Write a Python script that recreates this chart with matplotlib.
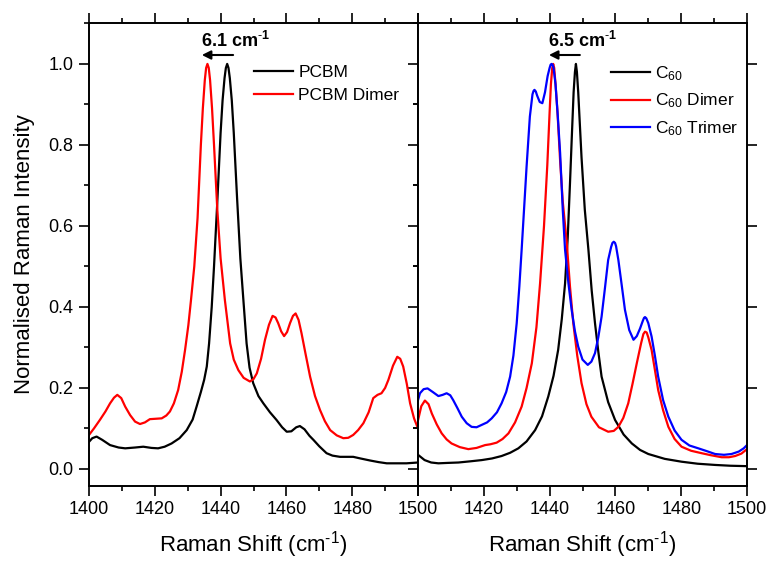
import matplotlib
matplotlib.use('Agg')
from matplotlib import pyplot as plt
from matplotlib.ticker import MultipleLocator, FixedLocator

plt.rcParams['font.family'] = ['Liberation Sans', 'DejaVu Sans']
plt.rcParams['mathtext.fontset'] = 'custom'
plt.rcParams['mathtext.rm'] = 'Liberation Sans'
plt.rcParams['mathtext.bf'] = 'Liberation Sans:bold'
plt.rcParams['mathtext.it'] = 'Liberation Sans:italic'

# left panel: PCBM and PCBM dimer
pcbm_x = [1400, 1401, 1402.3, 1404, 1406.4, 1409, 1411, 1414, 1416.5, 1419, 1421, 1423, 1425.1, 1427.5,
          1429.7, 1431.5, 1432.7, 1434, 1435, 1435.8, 1436.5, 1437.3, 1438, 1439, 1440, 1440.6, 1441.2,
          1441.6, 1442, 1442.4, 1442.8, 1443.4, 1444, 1445, 1446, 1446.9, 1447.9, 1448.8, 1449.9, 1451.5,
          1453, 1455, 1457, 1458.7, 1460.1, 1461.5, 1463, 1464.1, 1465.5, 1467, 1468.2, 1470, 1472.2,
          1474, 1476.3, 1478, 1480.3, 1482.5, 1485.4, 1488, 1490.5, 1493.5, 1496.5, 1500]
pcbm_y = [0.067, 0.076, 0.080, 0.072, 0.059, 0.053, 0.051, 0.053, 0.055, 0.052, 0.051, 0.055, 0.063, 0.076,
          0.096, 0.122, 0.154, 0.19, 0.22, 0.253, 0.31, 0.40, 0.50, 0.66, 0.83, 0.91, 0.965,
          0.99, 1.0, 0.99, 0.965, 0.91, 0.83, 0.67, 0.52, 0.42, 0.31, 0.25, 0.212, 0.18,
          0.162, 0.14, 0.121, 0.103, 0.092, 0.093, 0.103, 0.106, 0.098, 0.082, 0.072, 0.056, 0.039,
          0.033, 0.030, 0.030, 0.030, 0.026, 0.021, 0.017, 0.014, 0.014, 0.014, 0.016]

dimer_x = [1400, 1401.5, 1403.3, 1405, 1406.4, 1407.6, 1408.6, 1409.8, 1411, 1412.5, 1414, 1415.5, 1417,
           1418.5, 1420.3, 1422.1, 1423.5, 1424.6, 1425.8, 1427.1, 1428.2, 1429.2, 1430.2, 1431, 1432,
           1433, 1434, 1434.6, 1435.2, 1435.6, 1436, 1436.4, 1436.8, 1437.4, 1438, 1439, 1440, 1441.3,
           1442.9, 1444, 1445.4, 1447, 1448.9, 1450, 1451, 1452.3, 1453.5, 1454.7, 1455.8, 1456.7,
           1457.5, 1458.4, 1459.3, 1460.2, 1461.1, 1462, 1462.8, 1463.7, 1464.6, 1465.8, 1467.2, 1468.7,
           1470.2, 1471.7, 1473.3, 1475.3, 1477.3, 1478.8, 1480.3, 1481.8, 1483.4, 1485, 1486.4, 1487.7,
           1488.9, 1490, 1491, 1492.4, 1493.7, 1494.6, 1495.5, 1496.6, 1497.6, 1498.8, 1500]
dimer_y = [0.084, 0.10, 0.121, 0.142, 0.162, 0.176, 0.183, 0.175, 0.154, 0.133, 0.117, 0.111, 0.115,
           0.123, 0.124, 0.125, 0.132, 0.142, 0.162, 0.195, 0.24, 0.294, 0.355, 0.417, 0.50,
           0.62, 0.80, 0.89, 0.96, 0.99, 1.0, 0.99, 0.96, 0.89, 0.80, 0.64, 0.52, 0.417,
           0.310, 0.27, 0.244, 0.225, 0.216, 0.222, 0.236, 0.272, 0.319, 0.356, 0.378, 0.374,
           0.360, 0.340, 0.328, 0.338, 0.360, 0.378, 0.384, 0.368, 0.335, 0.285, 0.228, 0.18,
           0.146, 0.118, 0.096, 0.083, 0.076, 0.077, 0.084, 0.096, 0.113, 0.14, 0.175, 0.183,
           0.187, 0.2, 0.220, 0.255, 0.277, 0.272, 0.253, 0.21, 0.162, 0.125, 0.10]

# right panel: C60, dimer, trimer
c60_x = [1400, 1402, 1404, 1406.2, 1409, 1412.3, 1416, 1419.4, 1422.5, 1425.4, 1428, 1430.5, 1433, 1435.6,
         1437.7, 1439.6, 1441.2, 1442.6, 1443.7, 1444.7, 1445.5, 1446.2, 1446.8, 1447.3, 1447.7, 1448,
         1448.3, 1448.7, 1449.2, 1449.7, 1450.7, 1451.8, 1452.8, 1453.8, 1454.8, 1455.8, 1457.8, 1459.9,
         1462.5, 1465, 1467.5, 1470, 1475, 1480.1, 1485, 1490.3, 1495, 1500]
c60_y = [0.035, 0.022, 0.016, 0.014, 0.015, 0.016, 0.019, 0.022, 0.026, 0.032, 0.04, 0.051, 0.068, 0.096,
         0.13, 0.179, 0.23, 0.294, 0.37, 0.458, 0.57, 0.706, 0.83, 0.93, 0.98, 1.0,
         0.98, 0.93, 0.85, 0.77, 0.64, 0.541, 0.44, 0.360, 0.29, 0.228, 0.165, 0.121,
         0.085, 0.063, 0.047, 0.037, 0.025, 0.018, 0.013, 0.010, 0.008, 0.007]

c60d_x = [1400, 1401, 1402.1, 1403.2, 1404.2, 1405.7, 1407.2, 1408.7, 1410.2, 1412.7, 1415.3, 1417.8,
          1420.4, 1422, 1423.9, 1425.7, 1427.5, 1429.5, 1431.5, 1433, 1434.6, 1436, 1437.1, 1438.3,
          1439.3, 1440, 1440.4, 1440.8, 1441.1, 1441.4, 1441.8, 1442.4, 1443.2, 1444, 1445.2, 1446.2,
          1447.2, 1448.4, 1449.7, 1451.2, 1452.7, 1455, 1457.8, 1459.5, 1460.9, 1462.4, 1463.9, 1465.2,
          1466.5, 1467.8, 1468.5, 1469, 1469.5, 1470, 1471, 1472, 1473, 1474.5, 1476.1, 1478, 1480.1,
          1483, 1486.2, 1489, 1492.3, 1494.5, 1496.4, 1498.3, 1500]
c60d_y = [0.12, 0.155, 0.169, 0.16, 0.137, 0.11, 0.088, 0.073, 0.063, 0.054, 0.049, 0.052,
          0.059, 0.061, 0.065, 0.074, 0.088, 0.115, 0.154, 0.2, 0.261, 0.35, 0.458, 0.6,
          0.75, 0.88, 0.95, 0.99, 1.0, 0.99, 0.95, 0.88, 0.76, 0.66, 0.56, 0.45,
          0.36, 0.28, 0.212, 0.16, 0.129, 0.103, 0.092, 0.094, 0.104, 0.126, 0.162, 0.21,
          0.261, 0.31, 0.333, 0.339, 0.337, 0.325, 0.294, 0.245, 0.195, 0.145, 0.104, 0.074, 0.055,
          0.045, 0.039, 0.034, 0.029, 0.029, 0.032, 0.038, 0.049]

c60t_x = [1400, 1400.6, 1401.7, 1402.9, 1404.5, 1406.2, 1407.5, 1408.7, 1409.8, 1410.7, 1412, 1413.3,
          1414.8, 1416.3, 1417.8, 1419.4, 1421, 1422.4, 1424, 1425.4, 1426.8, 1428, 1429, 1430, 1430.8,
          1431.5, 1432.3, 1433, 1434, 1434.8, 1435.1, 1435.4, 1435.8, 1436.2, 1437, 1437.8, 1438.6,
          1439.4, 1440, 1440.3, 1440.6, 1440.9, 1441.2, 1441.8, 1442.5, 1443.2, 1444, 1444.7, 1445.7,
          1446.7, 1447.7, 1448.7, 1450, 1451.6, 1452.7, 1453.8, 1454.8, 1455.8, 1456.8, 1457.8, 1458.7,
          1459.1, 1459.5, 1459.9, 1460.2, 1460.9, 1461.9, 1462.9, 1464.2, 1465.5, 1466.5, 1467.5,
          1468.3, 1468.7, 1469, 1469.4, 1470, 1471, 1472, 1473, 1474.5, 1476.1, 1478, 1480.1, 1482.5,
          1485.2, 1487.8, 1490.3, 1493, 1495.3, 1497.5, 1499, 1500]
c60t_y = [0.17, 0.187, 0.197, 0.199, 0.19, 0.18, 0.183, 0.187, 0.182, 0.17, 0.15, 0.129,
          0.113, 0.104, 0.103, 0.109, 0.115, 0.125, 0.14, 0.162, 0.19, 0.228, 0.28, 0.360, 0.45,
          0.541, 0.65, 0.746, 0.87, 0.925, 0.933, 0.936, 0.932, 0.922, 0.906, 0.903, 0.93,
          0.97, 0.99, 0.998, 1.0, 0.998, 0.99, 0.95, 0.87, 0.78, 0.64, 0.541, 0.46,
          0.393, 0.34, 0.302, 0.27, 0.257, 0.265, 0.286, 0.325, 0.376, 0.445, 0.516, 0.548,
          0.558, 0.561, 0.558, 0.55, 0.516, 0.455, 0.393, 0.343, 0.319, 0.328, 0.347,
          0.365, 0.373, 0.375, 0.372, 0.36, 0.327, 0.28, 0.228, 0.17, 0.129, 0.095, 0.072, 0.058,
          0.051, 0.044, 0.037, 0.035, 0.037, 0.043, 0.051, 0.059]

# shift arrows: (from, to, label)
shift_left = (1443.8, 1434.3, r'6.1 cm$^{\mathbf{\text{-}1}}$')
shift_right = (1449.2, 1439.8, r'6.5 cm$^{\mathbf{\text{-}1}}$')
xlabel = r'Raman Shift (cm$^{\text{-}1}$)'

fig = plt.figure(figsize=(7.69, 5.61), dpi=100)
ax1 = fig.add_axes([89 / 769, 1 - 486 / 561, 329 / 769, 463 / 561])
ax2 = fig.add_axes([418 / 769, 1 - 486 / 561, 329 / 769, 463 / 561])

lw = 1.6
ax1.plot(pcbm_x, pcbm_y, color='black', lw=lw, label='PCBM')
ax1.plot(dimer_x, dimer_y, color='red', lw=lw, label='PCBM Dimer')
ax2.plot(c60_x, c60_y, color='black', lw=lw, label=r'C$_{60}$')
ax2.plot(c60d_x, c60d_y, color='red', lw=lw, label=r'C$_{60}$ Dimer')
ax2.plot(c60t_x, c60t_y, color='blue', lw=lw, label=r'C$_{60}$ Trimer')

for ax in (ax1, ax2):
    ax.set_xlim(1400, 1500)
    ax.set_ylim(-0.042, 1.101)
    ax.xaxis.set_major_locator(MultipleLocator(20))
    ax.xaxis.set_minor_locator(MultipleLocator(10))
    ax.yaxis.set_major_locator(MultipleLocator(0.2))
    ax.yaxis.set_minor_locator(MultipleLocator(0.1))
    for s in ax.spines.values():
        s.set_linewidth(1.4)
    ax.tick_params(axis='x', which='both', direction='out', top=True, bottom=True,
                   labelsize=13, width=1.2, pad=4)
    ax.tick_params(axis='x', which='major', length=7)
    ax.tick_params(axis='x', which='minor', length=3.5)
    ax.tick_params(axis='y', which='both', direction='out', width=1.2, labelsize=13, pad=4)
    ax.tick_params(axis='y', which='major', length=7)
    ax.tick_params(axis='y', which='minor', length=3.5)
    ax.set_xlabel(xlabel, fontsize=16, labelpad=8)

ax1.tick_params(axis='y', left=True, right=False)
ax1.yaxis.set_major_formatter(plt.FuncFormatter(lambda v, p: '%.1f' % v))
ax1.set_ylabel('Normalised Raman Intensity', fontsize=16, labelpad=10)

ax2.tick_params(axis='y', left=False, right=True, labelleft=False, labelright=False)
ax2.xaxis.set_major_locator(FixedLocator([1400, 1420, 1440, 1460, 1480, 1500]))
ax2.set_xticklabels(['', '1420', '1440', '1460', '1480', '1500'])

# middle spine ticks cross both sides
mid = ax1.secondary_yaxis('right')
mid.yaxis.set_major_locator(MultipleLocator(0.2))
mid.yaxis.set_minor_locator(MultipleLocator(0.1))
mid.tick_params(which='both', direction='inout', labelright=False, width=1.2)
mid.tick_params(which='major', length=14)
mid.tick_params(which='minor', length=7)
mid.spines['right'].set_linewidth(1.4)

for ax, (x0, x1, txt) in ((ax1, shift_left), (ax2, shift_right)):
    ax.annotate('', xy=(x1, 1.022), xytext=(x0, 1.022),
                arrowprops=dict(arrowstyle='-|>', color='black', lw=1.5, mutation_scale=13,
                                shrinkA=0, shrinkB=0))
    ax.text(x1 - 0.3, 1.042, txt, fontsize=13, fontweight='bold', ha='left', va='baseline')

ax1.legend(loc='upper left', bbox_to_anchor=(0.502, 0.909), frameon=False, fontsize=12.5,
           borderpad=0, borderaxespad=0, handlelength=2.25, handletextpad=0.3, labelspacing=0.45)
ax2.legend(loc='upper left', bbox_to_anchor=(0.587, 0.911), frameon=False, fontsize=12.5,
           borderpad=0, borderaxespad=0, handlelength=2.25, handletextpad=0.3, labelspacing=0.5)

plt.savefig('out.png', dpi=100)
